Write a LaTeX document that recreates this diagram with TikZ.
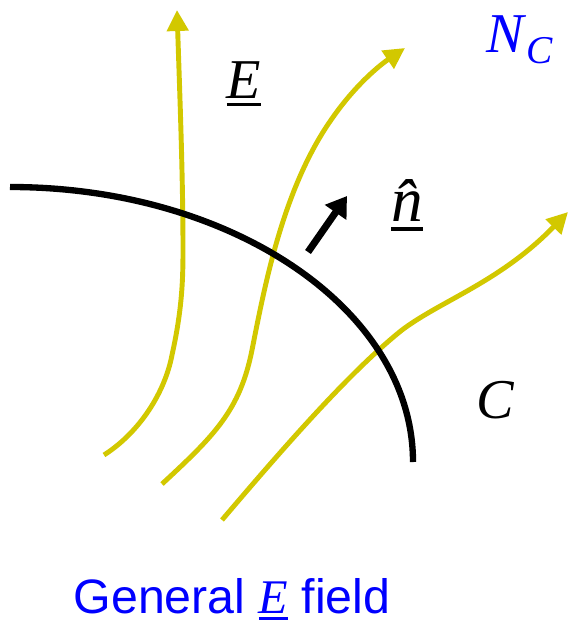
\documentclass[tikz,border=0pt]{standalone}
\usepackage{fontspec}
\setmainfont{Liberation Serif}
\newfontfamily\labelfont{Liberation Sans}
\usetikzlibrary{arrows.meta}
\definecolor{fieldc}{RGB}{210,200,0}
\definecolor{textc}{RGB}{0,0,255}
\newcommand{\vecsym}[1]{\vtop{\hbox{#1}\kern0.09em\hrule height 0.055em}}

\begin{document}
\begin{tikzpicture}[x=0.02cm,y=-0.02cm]
			\useasboundingbox (0,0) rectangle (568,622);
			\tikzset{fieldline/.style={fieldc,line width=2.8pt,-{Triangle[length=0.42cm,width=0.42cm]}},
				sym/.style={font=\fontsize{32}{32}\selectfont\itshape}}
			% field lines of E
			\draw[fieldline] (104,455) .. controls (140,432) and (165,392) .. (172,355)
				.. controls (182,310) and (183,280) .. (183,250)
				.. controls (183,180) and (180,100) .. (177,10);
			\draw[fieldline] (162,484) .. controls (215,435) and (240,410) .. (252,350)
				.. controls (264,290) and (282,190) .. (331,120)
				.. controls (355,85) and (380,65) .. (405,48);
			\draw[fieldline] (222,520) .. controls (290,440) and (352,370) .. (402,330)
				.. controls (442,300) and (500,282) .. (568,212);
			% the curve C
			\draw[line width=3.6pt] (10,187) arc[start angle=-90,end angle=0,x radius=403,y radius=275];
			% normal
			\coordinate (nfoot) at (308,252);
			\coordinate (ntip) at (347,196);
			\draw[line width=4pt,-{Triangle[length=0.4cm,width=0.5cm]}] (nfoot) -- (ntip);
			% labels
			\node[sym] (elabel) at (244,84) {\vecsym{E}};
			\node[sym,textc] (nclabel) at (520,40) {N\kern0.05em\textsubscript{\raisebox{-0.12em}{C}}};
			\node[sym,font=\fontsize{36}{36}\selectfont\itshape] (nhat) at (407,205) {\vecsym{\^{n}}};
			\node[sym] (clabel) at (495,400) {C};
			\node[font=\labelfont\fontsize{27.5}{27.5}\selectfont,textc] (title) at (232,599)
				{General {\rmfamily\itshape\vecsym{E}} field};
		\end{tikzpicture}
\end{document}
